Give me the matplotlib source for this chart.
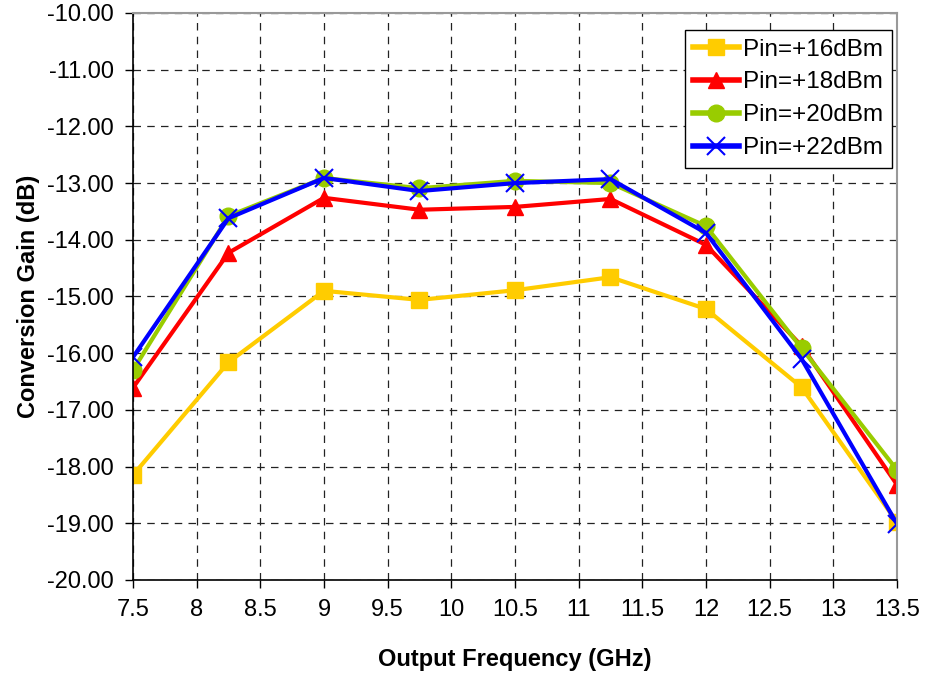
import numpy as np
import matplotlib.pyplot as plt

plt.rcParams['font.family'] = ['Liberation Sans', 'DejaVu Sans']

freq = [7.5, 8.25, 9.0, 9.75, 10.5, 11.25, 12.0, 12.75, 13.5]
pin16 = [-18.15, -16.16, -14.90, -15.06, -14.89, -14.66, -15.22, -16.60, -18.98]
pin18 = [-16.61, -14.23, -13.26, -13.47, -13.42, -13.28, -14.09, -15.87, -18.32]
pin20 = [-16.30, -13.58, -12.91, -13.09, -12.96, -13.00, -13.76, -15.91, -18.06]
pin22 = [-16.07, -13.62, -12.91, -13.14, -13.00, -12.93, -13.88, -16.10, -19.01]

fig = plt.figure(figsize=(9.28, 6.73), dpi=100)
ax = fig.add_axes([0.1433, 0.1382, 0.8233, 0.8425])

ax.plot(freq, pin16, color="#ffcc00", lw=3, marker="s", ms=11.5, label="Pin=+16dBm")
ax.plot(freq, pin18, color="#ff0000", lw=3, marker="^", ms=12, label="Pin=+18dBm")
ax.plot(freq, pin20, color="#99cc00", lw=3, marker="o", ms=12, label="Pin=+20dBm")
ax.plot(freq, pin22, color="#0000ff", lw=3, marker="x", ms=13, mew=1.5, label="Pin=+22dBm")

ax.set_xlim(7.5, 13.5)
ax.set_ylim(-20, -10)
ax.set_xticks(np.arange(7.5, 13.51, 0.5))
ax.set_xticklabels(["7.5", "8", "8.5", "9", "9.5", "10", "10.5", "11", "11.5", "12", "12.5", "13", "13.5"])
ax.set_yticks(np.arange(-20, -9.9, 1))
ax.set_yticklabels(["%.2f" % v for v in np.arange(-20, -9.9, 1)])
ax.tick_params(labelsize=17, direction="out", length=6, width=1, pad=8)
ax.grid(True, color="#222222", ls=(0, (6, 5)), lw=0.9)

for s in ["top", "right"]:
    ax.spines[s].set_color("#999999")
    ax.spines[s].set_linewidth(1.5)
ax.spines["left"].set_linewidth(1.2)
ax.spines["bottom"].set_linewidth(1.2)

ax.set_xlabel("Output Frequency (GHz)", fontsize=17, fontweight="bold", labelpad=19)
ax.set_ylabel("Conversion Gain (dB)", fontsize=17, fontweight="bold", labelpad=5)

leg = ax.legend(loc="upper right", bbox_to_anchor=(0.993, 0.97), fontsize=17.5,
                frameon=True, fancybox=False, edgecolor="black", framealpha=1,
                borderpad=0.35, labelspacing=0.45, handlelength=1.9, handletextpad=0.15,
                borderaxespad=0)
leg.get_frame().set_linewidth(1)
for h in leg.get_lines():
    h.set_linewidth(4)

fig.savefig("out.png", dpi=100)
